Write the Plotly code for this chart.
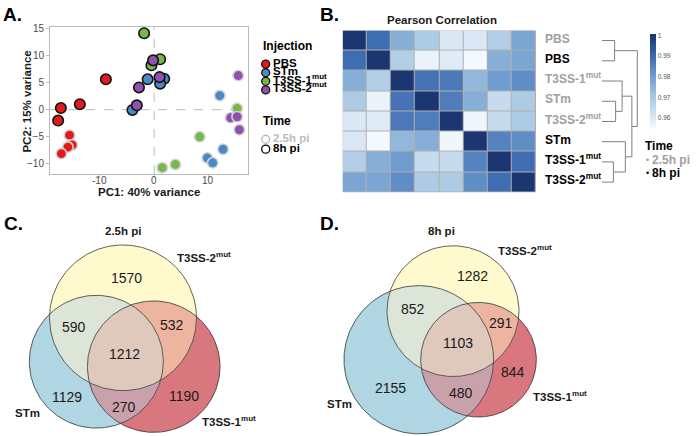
import numpy as np
import plotly.graph_objects as go

W, H = 696, 436
FONT = "Liberation Sans, Arial, Helvetica, sans-serif"

# ---------------- Panel A data (PCA) ----------------
injections = ["PBS", "STm", "T3SS-1<sup>mut</sup>", "T3SS-2<sup>mut</sup>"]
injection_colors = ["#E31A1C", "#4A88C8", "#78B84A", "#9050B0"]
times = ["2.5h pi", "8h pi"]

pbs_2h_pc1 = [-15.6, -15.1, -15.9, -17.1]
pbs_2h_pc2 = [-4.7, -6.5, -6.9, -8.1]
pbs_8h_pc1 = [-17.2, -17.7, -13.7, -8.9]
pbs_8h_pc2 = [0.3, -2.0, 1.0, 5.6]
stm_2h_pc1 = [12.1, 12.7, 9.8, 10.8]
stm_2h_pc2 = [2.6, -7.3, -8.9, -9.8]
stm_8h_pc1 = [-1.2, 1.85, 1.1, -4.0]
stm_8h_pc2 = [5.6, 5.7, 4.8, -0.05]
t1_2h_pc1 = [8.4, 1.5, 3.9, 15.3]
t1_2h_pc2 = [-5.0, -10.7, -10.1, 0.25]
t1_8h_pc1 = [-1.85, 1.1, -0.5]
t1_8h_pc2 = [14.1, 9.3, 8.2]
t2_2h_pc1 = [15.5, 14.1, 15.3, 15.7]
t2_2h_pc2 = [6.3, -1.5, -1.3, -3.7]
t2_8h_pc1 = [-0.2, 1.0, -2.8, -3.2]
t2_8h_pc2 = [9.1, 6.0, 4.1, 0.8]
pc1_ticks = [-10, 0, 10]
pc2_ticks = [-10, -5, 0, 5, 10, 15]

# ---------------- Panel B data (Pearson correlation) ----------------
row_labels = ["PBS", "PBS", "T3SS-1<sup>mut</sup>", "STm", "T3SS-2<sup>mut</sup>",
              "STm", "T3SS-1<sup>mut</sup>", "T3SS-2<sup>mut</sup>"]
row_times = ["2.5h pi", "8h pi", "2.5h pi", "2.5h pi", "2.5h pi", "8h pi", "8h pi", "8h pi"]
corr = [
    [1.000, 0.989, 0.976, 0.969, 0.960, 0.960, 0.968, 0.978],
    [0.989, 1.000, 0.968, 0.957, 0.959, 0.955, 0.976, 0.978],
    [0.976, 0.968, 1.000, 0.988, 0.987, 0.974, 0.980, 0.983],
    [0.969, 0.957, 0.988, 1.000, 0.986, 0.976, 0.964, 0.969],
    [0.960, 0.959, 0.987, 0.986, 1.000, 0.956, 0.964, 0.969],
    [0.960, 0.955, 0.974, 0.976, 0.956, 1.000, 0.985, 0.983],
    [0.968, 0.976, 0.980, 0.964, 0.964, 0.985, 1.000, 0.989],
    [0.978, 0.978, 0.983, 0.969, 0.969, 0.983, 0.989, 1.000],
]
# hierarchical clustering merges: (child a, child b, relative height); leaves 0..7, new nodes 8..
dendro_merges = [(0, 1, 0.358), (3, 4, 0.386), (2, 9, 0.570), (6, 7, 0.322),
                 (5, 11, 0.661), (10, 12, 0.846), (8, 13, 1.000)]
cbar_ticks = [0.96, 0.97, 0.98, 0.99, 1.0]

# ---------------- Panels C/D data (Venn) ----------------
venn_sets = ["T3SS-2<sup>mut</sup>", "STm", "T3SS-1<sup>mut</sup>"]
venn_regions = [(0,), (1,), (2,), (0, 1), (0, 2), (1, 2), (0, 1, 2)]
venn_25h = [1570, 1129, 1190, 590, 532, 270, 1212]
venn_8h = [1282, 2155, 844, 852, 291, 480, 1103]

# ---------------- styling / layout constants ----------------
region_colors = ["#FEFACD", "#B0D5E3", "#D8787E", "#DDE5D9", "#EDB49F", "#C9A1AB", "#DFC8BC"]
circles_C = [(123.0, 316.7, 73.5), (96.3, 361.0, 67.0), (153.7, 366.0, 66.3)]
circles_D = [(453.0, 310.0, 66.0), (418.8, 359.0, 74.8), (478.5, 359.0, 57.8)]
count_pos_C = [(126.7, 278.3), (66.7, 399.3), (184.3, 398.3), (74, 328.3), (171.7, 326.7), (124, 408.7), (124, 355.7)]
count_pos_D = [(472, 276.7), (390.7, 389.3), (513, 374), (413, 310), (500.7, 324), (461.3, 395), (458, 344.3)]

fig = go.Figure()
annots = []


def ann(x, y, text, size=12, color="#000000", bold=True, xanchor="left", angle=0, xref="x3"):
    # y is the vertical centre of the capital letters; anchor at box bottom so that
    # superscripts do not shift the baseline
    if angle == 0:
        yy, ya = y + 0.56 * size, "bottom"
    else:
        yy, ya = y, "middle"
    annots.append(dict(x=x, y=yy, xref=xref, yref="y3", text=(f"<b>{text}</b>" if bold else text),
                       showarrow=False, xanchor=xanchor, yanchor=ya, textangle=angle,
                       font=dict(family=FONT, size=size, color=color)))


# ---------------- Panel A ----------------
pca = [
    (0, 0, pbs_2h_pc1, pbs_2h_pc2), (1, 0, stm_2h_pc1, stm_2h_pc2),
    (2, 0, t1_2h_pc1, t1_2h_pc2), (3, 0, t2_2h_pc1, t2_2h_pc2),
    (0, 1, pbs_8h_pc1, pbs_8h_pc2), (1, 1, stm_8h_pc1, stm_8h_pc2),
    (2, 1, t1_8h_pc1, t1_8h_pc2), (3, 1, t2_8h_pc1, t2_8h_pc2),
]
edge_cols = ["#D4D4D4", "#111111"]
for gi, ti, xs, ys in pca:
    fig.add_trace(go.Scatter(x=xs, y=ys, mode="markers", xaxis="x", yaxis="y", showlegend=False,
                             marker=dict(size=10.5, color=injection_colors[gi],
                                         line=dict(color=edge_cols[ti], width=1.6)),
                             cliponaxis=False))

# x tick labels (placed just under the axis, as in the reference)
for v in pc1_ticks:
    ann(v, 180.5, str(v), 10, "#4D4D4D", bold=False, xanchor="center", xref="x")

# legend for A (drawn manually)
ann(260.5, 44.3, "Injection", 12)
leg_y = [60.7, 69.4, 78.0, 86.7]
fig.add_trace(go.Scatter(x=[265.7] * 4, y=leg_y, mode="markers", xaxis="x3", yaxis="y3", showlegend=False,
                         marker=dict(size=8, color=injection_colors, line=dict(color="#111111", width=1.3))))
for i, t in enumerate(injections):
    ann(270.5, leg_y[i], t, 11.5)
ann(260.5, 120.7, "Time", 12)
time_y = [136.5, 146.5]
time_cols = ["#BBBBBB", "#000000"]
fig.add_trace(go.Scatter(x=[265.7] * 2, y=time_y, mode="markers", xaxis="x3", yaxis="y3", showlegend=False,
                         marker=dict(size=8, color="rgba(0,0,0,0)", line=dict(color=time_cols, width=1.3))))
for i, t in enumerate(times):
    ann(270.5, time_y[i], t, 11.5, color=time_cols[i])

ann(148.5, 191.5, "PC1: 40% variance", 11.5, "#1A1A1A", xanchor="center")
ann(27.5, 99, "PC2: 15% variance", 11.5, "#1A1A1A", xanchor="center", angle=-90)

# ---------------- Panel B ----------------
zmin, zmax = 0.9545, 1.0005
anchors = [(0.9545, "#F7FBFF"), (0.960, "#DAE7F4"), (0.970, "#A9C8E3"), (0.980, "#6F9DCF"),
           (0.990, "#3A68AE"), (1.0005, "#19346D")]
cscale = [[(v - zmin) / (zmax - zmin), c] for v, c in anchors]
fig.add_trace(go.Heatmap(z=corr, x=list(range(8)), y=list(range(8)), xaxis="x2", yaxis="y2",
                         colorscale=cscale, zmin=zmin, zmax=zmax, xgap=1, ygap=1, hoverinfo="skip",
                         colorbar=dict(x=650 / W, xanchor="left", y=1 - 78.7 / H, yanchor="middle",
                                       len=96 / H, lenmode="fraction", thickness=6, outlinewidth=0,
                                       tickvals=cbar_ticks, ticktext=["0.96", "0.97", "0.98", "0.99", "1"],
                                       ticks="", tickfont=dict(family=FONT, size=6.5, color="#555555"),
                                       xpad=0, ypad=0)))

row_top, row_h = 26.7, (190 - 26.7) / 8
row_y = [row_top + row_h * (i + 0.5) for i in range(8)]
for i, (lab, tm) in enumerate(zip(row_labels, row_times)):
    ann(543, row_y[i] + 0.5, lab, 12, "#A0A0A0" if tm == "2.5h pi" else "#000000")

# dendrogram
leaf_x, dscale = 602.0, 35.3
node_y = {i: row_y[i] for i in range(8)}
node_x = {i: leaf_x for i in range(8)}
dx, dy = [], []
for k, (a, b, h) in enumerate(dendro_merges):
    nid = 8 + k
    xm = leaf_x + h * dscale
    for c in (a, b):
        dx += [node_x[c], xm, None]
        dy += [node_y[c], node_y[c], None]
    dx += [xm, xm, None]
    dy += [node_y[a], node_y[b], None]
    node_x[nid] = xm
    node_y[nid] = (node_y[a] + node_y[b]) / 2
fig.add_trace(go.Scatter(x=dx, y=dy, mode="lines", xaxis="x3", yaxis="y3", showlegend=False,
                         line=dict(color="#7F7F7F", width=1), hoverinfo="skip"))

ann(441.7, 17.3, "Pearson Correlation", 11.5, "#1A1A1A", xanchor="center")
ann(642.5, 146, "Time", 12)
ann(643.5, 159.3, "•", 9, "#A0A0A0", bold=False)
ann(650, 159.3, "2.5h pi", 12, "#A0A0A0")
ann(643.5, 172.7, "•", 9, "#000000", bold=False)
ann(650, 172.7, "8h pi", 12, "#000000")


# ---------------- Panels C / D (Venn) ----------------
def circle_arcs(circles):
    arcs = []
    for i, (cx, cy, r) in enumerate(circles):
        angs = []
        for j, (ox, oy, rr) in enumerate(circles):
            if j == i:
                continue
            d = np.hypot(ox - cx, oy - cy)
            a = np.arctan2(oy - cy, ox - cx)
            cv = (r * r + d * d - rr * rr) / (2 * r * d)
            if abs(cv) < 1:
                t = np.arccos(cv)
                angs += [a - t, a + t]
        angs = sorted(np.mod(angs, 2 * np.pi))
        for k in range(len(angs)):
            a0 = angs[k]
            a1 = angs[(k + 1) % len(angs)]
            if a1 <= a0:
                a1 += 2 * np.pi
            am = (a0 + a1) / 2
            px, py = cx + r * np.cos(am), cy + r * np.sin(am)
            sig = frozenset(j for j, (ox, oy, rr) in enumerate(circles)
                            if j != i and np.hypot(px - ox, py - oy) < rr)
            arcs.append((i, a0, a1, sig))
    return arcs


def region_polygon(circles, arcs, members, n=80):
    members = frozenset(members)
    edges = []
    for (i, a0, a1, sig) in arcs:
        if i in members and sig == members - {i}:
            edges.append((i, a0, a1))
        elif i not in members and sig == members:
            edges.append((i, a1, a0))

    def pt(i, a):
        cx, cy, r = circles[i]
        return np.array([cx + r * np.cos(a), cy + r * np.sin(a)])

    xs, ys = [], []
    cur = edges.pop(0)
    while True:
        i, a0, a1 = cur
        cx, cy, r = circles[i]
        ts = np.linspace(a0, a1, n)
        xs += list(cx + r * np.cos(ts))
        ys += list(cy + r * np.sin(ts))
        end = pt(i, a1)
        if not edges:
            break
        k = min(range(len(edges)), key=lambda q: np.linalg.norm(pt(edges[q][0], edges[q][1]) - end))
        cur = edges.pop(k)
    return xs, ys


def draw_venn(circles, counts, count_pos):
    arcs = circle_arcs(circles)
    for members, col in zip(venn_regions, region_colors):
        xs, ys = region_polygon(circles, arcs, members)
        fig.add_trace(go.Scatter(x=xs, y=ys, mode="lines", fill="toself", fillcolor=col,
                                 line=dict(width=0.5, color=col), xaxis="x3", yaxis="y3",
                                 showlegend=False, hoverinfo="skip"))
    t = np.linspace(0, 2 * np.pi, 240)
    for (cx, cy, r) in circles:
        fig.add_trace(go.Scatter(x=cx + r * np.cos(t), y=cy + r * np.sin(t), mode="lines",
                                 line=dict(color="#3A3A3A", width=0.8), xaxis="x3", yaxis="y3",
                                 showlegend=False, hoverinfo="skip"))
    for c, (x, y) in zip(counts, count_pos):
        ann(x, y, str(c), 14, "#1A1A1A", bold=False, xanchor="center")


draw_venn(circles_C, venn_25h, count_pos_C)
draw_venn(circles_D, venn_8h, count_pos_D)

ann(122.5, 230.7, "2.5h pi", 11.5, "#1A1A1A", xanchor="center")
ann(175, 258.3, venn_sets[0], 11.5, "#1A1A1A")
ann(13, 414, venn_sets[1], 11.5, "#1A1A1A")
ann(200, 423.3, venn_sets[2], 11.5, "#1A1A1A")

ann(441.5, 230.7, "8h pi", 11.5, "#1A1A1A", xanchor="center")
ann(496.3, 250.7, venn_sets[0], 11.5, "#1A1A1A")
ann(325, 405, venn_sets[1], 11.5, "#1A1A1A")
ann(530.7, 398.3, venn_sets[2], 11.5, "#1A1A1A")

# panel letters
ann(1, 13, "A.", 19)
ann(318, 13, "B.", 19)
ann(2, 223, "C.", 19)
ann(318, 223, "D.", 19)

# ---------------- layout ----------------
axis_common = dict(showline=True, mirror=True, linecolor="#BBBBBB", linewidth=1, ticks="outside",
                   ticklen=3, tickcolor="#BBBBBB", showgrid=False, zeroline=False,
                   tickfont=dict(family=FONT, size=10, color="#4D4D4D"))
shapes = [
    dict(type="line", xref="x", yref="y domain", x0=0, x1=0, y0=0, y1=1,
         line=dict(color="#BBBBBB", width=1, dash="dash"), layer="below"),
    dict(type="line", xref="x domain", yref="y", x0=0, x1=1, y0=0, y1=0,
         line=dict(color="#BBBBBB", width=1, dash="dash"), layer="below"),
    dict(type="rect", xref="x2 domain", yref="y2 domain", x0=0, x1=1, y0=0, y1=1,
         fillcolor="#B0B0B0", line=dict(width=0), layer="below"),
]
fig.update_layout(
    width=W, height=H, margin=dict(l=0, r=0, t=0, b=0),
    paper_bgcolor="white", plot_bgcolor="rgba(0,0,0,0)", showlegend=False,
    font=dict(family=FONT),
    xaxis=dict(domain=[50 / W, 248 / W], range=[-19.2, 17.3], anchor="y",
               tickvals=pc1_ticks, showticklabels=False, **axis_common),
    yaxis=dict(domain=[1 - 171.5 / H, 1 - 23.5 / H], range=[-11.85, 15.2], anchor="x",
               tickvals=pc2_ticks, **axis_common),
    xaxis2=dict(domain=[342.7 / W, 536 / W], range=[-0.5, 7.5], anchor="y2", visible=False),
    yaxis2=dict(domain=[1 - 190 / H, 1 - 26.7 / H], range=[7.5, -0.5], anchor="x2", visible=False),
    xaxis3=dict(domain=[0, 1], range=[0, W], anchor="y3", visible=False, fixedrange=True),
    yaxis3=dict(domain=[0, 1], range=[H, 0], anchor="x3", visible=False, fixedrange=True),
    annotations=annots, shapes=shapes,
)

fig.write_html("out.html", config={"displayModeBar": False},
               post_script="document.body.style.margin='0';document.body.style.overflow='hidden';")
